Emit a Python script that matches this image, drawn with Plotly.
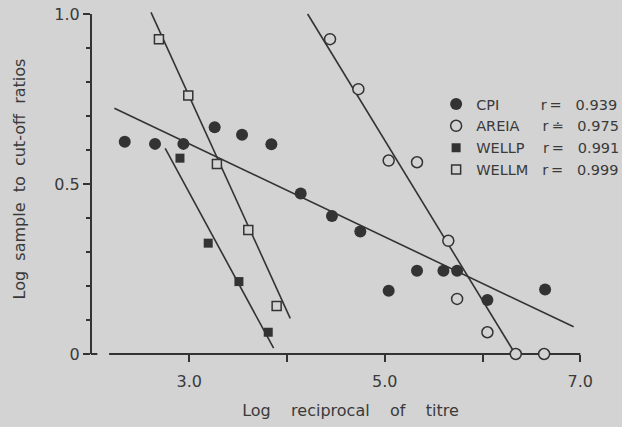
import plotly.graph_objects as go

# ---- data ----
cpi_x = [2.34, 2.65, 2.94, 3.26, 3.54, 3.84, 4.14, 4.46, 4.75, 5.04, 5.33, 5.60, 5.74, 6.05, 6.64]
cpi_y = [0.624, 0.618, 0.618, 0.667, 0.645, 0.617, 0.472, 0.406, 0.360, 0.186, 0.245, 0.245, 0.245, 0.159, 0.190]

areia_x = [4.44, 4.73, 5.04, 5.33, 5.65, 5.74, 6.05, 6.34, 6.63]
areia_y = [0.926, 0.779, 0.569, 0.564, 0.333, 0.162, 0.064, 0.0, 0.0]

wellp_x = [2.905, 3.194, 3.508, 3.808]
wellp_y = [0.576, 0.326, 0.213, 0.064]

wellm_x = [2.69, 2.99, 3.283, 3.604, 3.894]
wellm_y = [0.926, 0.760, 0.559, 0.365, 0.141]

# regression lines (end points)
cpi_fit_x = [2.234, 6.932]
cpi_fit_y = [0.723, 0.080]
areia_fit_x = [4.211, 6.322]
areia_fit_y = [1.0, 0.006]
wellp_fit_x = [2.754, 3.863]
wellp_fit_y = [0.605, 0.017]
wellm_fit_x = [2.609, 4.033]
wellm_fit_y = [1.005, 0.105]

series_names = ["CPI", "AREIA", "WELLP", "WELLM"]
r_signs = ["=", "\u2250", "=", "="]
r_values = ["0.939", "0.975", "0.991", "0.999"]
name_pads = [9, 5, 4, 3]

x_tick_vals = [3, 4, 5, 6, 7]
x_tick_text = ["3.0", "", "5.0", "", "7.0"]
y_tick_vals = [0, 0.5, 1.0]
y_tick_text = ["0", "0.5", "1.0"]
x_axis_span = [2.18, 7.0]
y_axis_span = [0.0, 1.0]

BG = "#d3d3d3"
INK = "#333333"
TXT = "#3a3a3a"
FONT = "DejaVu Sans"
NB = "\u00a0"
TH = "\u2009"

def label(i):
    return (series_names[i] + NB * name_pads[i] + "r" + TH + r_signs[i]
            + NB * 3 + r_values[i])

fig = go.Figure()

# regression lines first (under markers)
for fx, fy in [(cpi_fit_x, cpi_fit_y), (areia_fit_x, areia_fit_y),
               (wellp_fit_x, wellp_fit_y), (wellm_fit_x, wellm_fit_y)]:
    fig.add_trace(go.Scatter(x=fx, y=fy, mode="lines",
                             line=dict(color=INK, width=1.6),
                             showlegend=False, hoverinfo="skip", cliponaxis=False))

marker_styles = [
    dict(symbol="circle", size=12, color=INK, line=dict(width=0)),
    dict(symbol="circle", size=11, color=BG, line=dict(width=1.5, color=INK)),
    dict(symbol="square", size=9, color=INK, line=dict(width=0)),
    dict(symbol="square", size=9, color=BG, line=dict(width=1.5, color=INK)),
]
data_xy = [(cpi_x, cpi_y), (areia_x, areia_y), (wellp_x, wellp_y), (wellm_x, wellm_y)]
for i, (xs, ys) in enumerate(data_xy):
    fig.add_trace(go.Scatter(x=xs, y=ys, mode="markers", name=label(i),
                             marker=marker_styles[i], cliponaxis=False))

# axis lines (detached, as in the original figure)
fig.add_shape(type="line", xref="x", yref="paper", layer="below",
              x0=x_axis_span[0], x1=x_axis_span[1], y0=0, y1=0,
              line=dict(color=INK, width=2))
fig.add_shape(type="line", xref="paper", yref="y", layer="below",
              x0=0, x1=0, y0=y_axis_span[0], y1=y_axis_span[1],
              line=dict(color=INK, width=2))
fig.add_shape(type="line", xref="x", yref="paper", layer="below",
              x0=1.995, x1=2.06, y0=0, y1=0,
              line=dict(color=INK, width=2))

fig.update_layout(
    template="none",
    width=622, height=427,
    margin=dict(l=91, r=12, t=4, b=73, autoexpand=False),
    paper_bgcolor=BG, plot_bgcolor="rgba(0,0,0,0)",
    font=dict(family=FONT, size=16, color=TXT),
    showlegend=True,
    legend=dict(x=0.665, y=0.76, xanchor="left", yanchor="top",
                bgcolor="rgba(0,0,0,0)", borderwidth=0,
                font=dict(family=FONT, size=14.5, color=TXT)),
    xaxis=dict(range=[1.995, 7.304], showgrid=False, zeroline=False, showline=False,
               tickvals=x_tick_vals, ticktext=x_tick_text,
               ticks="outside", ticklen=7, tickwidth=2, tickcolor=INK,
               ticklabelstandoff=6,
               tickfont=dict(family=FONT, size=16, color=TXT), automargin=False,
               title=dict(text="Log" + NB * 4 + "reciprocal" + NB * 4 + "of" + NB * 4 + "titre",
                          font=dict(family=FONT, size=16, color=TXT), standoff=14)),
    yaxis=dict(range=[0, 350 / 340], showgrid=False, zeroline=False, showline=False,
               tickvals=y_tick_vals, ticktext=y_tick_text,
               ticks="outside", ticklen=7, tickwidth=2, tickcolor=INK,
               minor=dict(dtick=0.1, tick0=0, ticks="outside", ticklen=4, tickwidth=1.5,
                          tickcolor=INK, showgrid=False),
               tickfont=dict(family=FONT, size=16, color=TXT), automargin=False,
               title=dict(text="Log" + NB * 2 + "sample" + NB * 2 + "to" + NB * 2 + "cut-off" + NB * 2 + "ratios",
                          font=dict(family=FONT, size=16, color=TXT), standoff=24)),
)

fig.write_html("out.html", config={"displayModeBar": False},
               post_script="document.body.style.margin='0px';document.body.style.background='#d3d3d3';")
